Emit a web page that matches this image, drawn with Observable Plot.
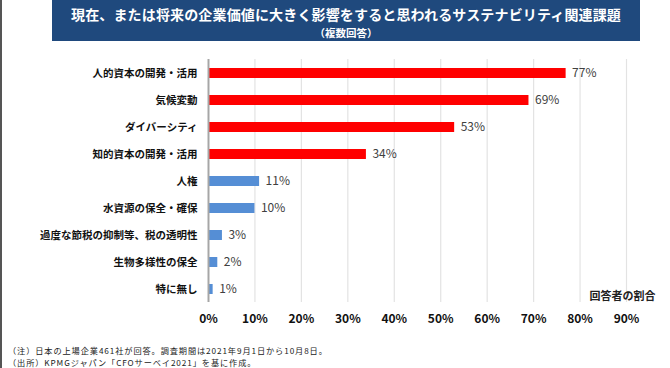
<!DOCTYPE html>
<html><head><meta charset="utf-8">
<script src="https://cdn.jsdelivr.net/npm/d3@7"></script>
<script src="https://cdn.jsdelivr.net/npm/@observablehq/plot@0.6"></script>
<style>
body{margin:0;background:#fff;font-family:"Noto Sans CJK JP",sans-serif;}
#wrap{position:relative;width:670px;height:368px;overflow:hidden;}
#border{position:absolute;left:0;top:0;width:2px;height:368px;background:#555;}
#title{position:absolute;left:52px;top:0;width:588px;height:41px;background:#1f497d;color:#fff;text-align:center;}
#t1{font-size:14px;letter-spacing:0.15px;font-weight:bold;line-height:20px;padding-top:4px;white-space:nowrap;}
#t2{font-size:10.5px;font-weight:bold;line-height:15px;margin-top:0.5px;}
#chart{position:absolute;left:0;top:0;}
.note{position:absolute;left:8px;font-size:8.2px;letter-spacing:0.9px;color:#222;line-height:12px;white-space:nowrap;}
</style></head>
<body><div id="wrap"><div id="chart"></div><div id="border"></div>
<div id="title"><div id="t1">現在、または将来の企業価値に大きく影響をすると思われるサステナビリティ関連課題</div><div id="t2">（複数回答）</div></div>
<div class="note" style="top:344px">（注）日本の上場企業461社が回答。調査期間は2021年9月1日から10月8日。</div>
<div class="note" style="top:356px">（出所）KPMGジャパン「CFOサーベイ2021」を基に作成。</div>
</div>
<script>
const categories = ["人的資本の開発・活用","気候変動","ダイバーシティ","知的資本の開発・活用","人権","水資源の保全・確保","過度な節税の抑制等、税の透明性","生物多様性の保全","特に無し"];
const values = [77,69,53,34,11,10,3,2,1];
const highlight = [true,true,true,true,false,false,false,false,false];
const xTicks = [0,10,20,30,40,50,60,70,80,90];
const axisLabel = "回答者の割合";

const data = categories.map((c,i)=>({c, v: values[i], h: highlight[i]}));

const plot = Plot.plot({
  width: 670, height: 368,
  marginLeft: 208, marginRight: 44, marginTop: 59, marginBottom: 66,
  style: {fontFamily: '"Noto Sans CJK JP", sans-serif', background: "transparent"},
  x: {domain: [0, 90], ticks: xTicks, tickFormat: d => d + "%"},
  y: {domain: categories, paddingInner: 0.63, paddingOuter: 0.315, label: null},
  marks: [
    Plot.ruleX(xTicks.filter(d=>d>0), {stroke: "#e3e3e3", strokeWidth: 1.2}),
    Plot.barX(data, {y: "c", x: "v", fill: d => d.h ? "#ff0000" : "#558ed5"}),
    Plot.ruleX([0], {stroke: "#a6a6a6", strokeWidth: 2}),
    Plot.text(data, {y: "c", x: "v", text: d => d.v + "%", textAnchor: "start", dx: 6, fontSize: 12, fill: "#404040"}),
    Plot.axisX({ticks: xTicks, tickFormat: d => d + "%", tickSize: 0, tickPadding: 12, fontSize: 12, fontWeight: "bold", fill: "#111", label: null, stroke: "none"}),
    Plot.axisY({tickSize: 0, tickPadding: 11, fontSize: 10.5, fontWeight: "bold", fill: "#111", label: null}),
    Plot.text([axisLabel], {frameAnchor: "bottom-right", dx: 29, dy: -3, fontSize: 11, fontWeight: "bold", fill: "#222", textAnchor: "end"})
  ]
});
document.getElementById("chart").appendChild(plot);
</script></body></html>
